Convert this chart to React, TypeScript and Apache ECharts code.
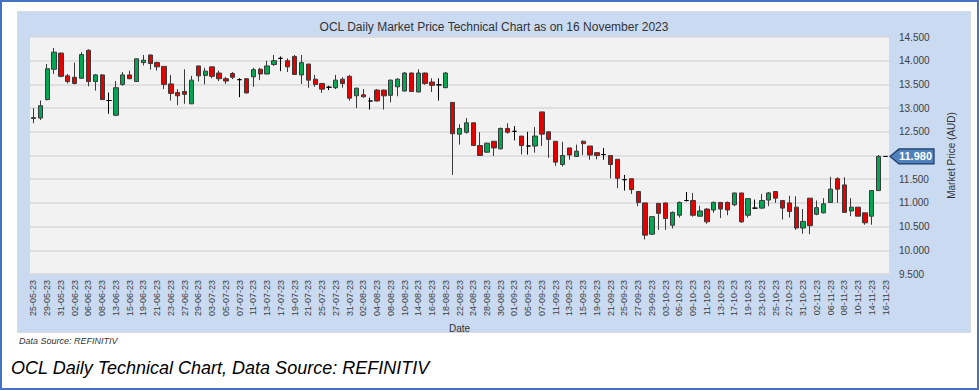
import React, { useEffect, useRef } from "react";
import * as echarts from "echarts";

const TITLE = "OCL Daily Market Price Technical Chart as on 16 November 2023";
const CAPTION = "OCL Daily Technical Chart, Data Source: REFINITIV";
const SOURCE = "Data Source: REFINITIV";
const Y_NAME = "Market Price (AUD)";
const X_NAME = "Date";

const dates = [
  "25-05-23","26-05-23","29-05-23","30-05-23","31-05-23","01-06-23","02-06-23","05-06-23","06-06-23","07-06-23",
  "08-06-23","09-06-23","13-06-23","14-06-23","15-06-23","16-06-23","19-06-23","20-06-23","21-06-23","22-06-23",
  "23-06-23","26-06-23","27-06-23","28-06-23","29-06-23","30-06-23","03-07-23","04-07-23","05-07-23","06-07-23",
  "07-07-23","10-07-23","11-07-23","12-07-23","13-07-23","14-07-23","17-07-23","18-07-23","19-07-23","20-07-23",
  "21-07-23","24-07-23","25-07-23","26-07-23","27-07-23","28-07-23","31-07-23","01-08-23","02-08-23","03-08-23",
  "04-08-23","07-08-23","08-08-23","09-08-23","10-08-23","11-08-23","14-08-23","15-08-23","16-08-23","17-08-23",
  "18-08-23","21-08-23","22-08-23","23-08-23","24-08-23","25-08-23","28-08-23","29-08-23","30-08-23","31-08-23",
  "01-09-23","04-09-23","05-09-23","06-09-23","07-09-23","08-09-23","11-09-23","12-09-23","13-09-23","14-09-23",
  "15-09-23","18-09-23","19-09-23","20-09-23","21-09-23","22-09-23","25-09-23","26-09-23","27-09-23","28-09-23",
  "29-09-23","02-10-23","03-10-23","04-10-23","05-10-23","06-10-23","09-10-23","10-10-23","11-10-23","12-10-23",
  "13-10-23","16-10-23","17-10-23","18-10-23","19-10-23","20-10-23","23-10-23","24-10-23","25-10-23","26-10-23",
  "27-10-23","30-10-23","31-10-23","01-11-23","02-11-23","03-11-23","06-11-23","07-11-23","08-11-23","09-11-23",
  "10-11-23","13-11-23","14-11-23","15-11-23","16-11-23",
];

const openP = [
  12.78,12.79,13.18,13.82,14.16,13.68,13.65,13.63,14.22,13.56,
  13.70,13.16,12.85,13.50,13.70,13.56,13.96,14.12,13.96,13.88,
  13.51,13.33,13.35,13.09,13.89,13.69,13.87,13.74,13.62,13.73,
  13.60,13.62,13.66,13.82,13.72,13.92,14.05,14.00,14.09,13.70,
  13.93,13.61,13.52,13.44,13.43,13.61,13.67,13.26,13.28,13.15,
  13.38,13.38,13.27,13.45,13.36,13.74,13.34,13.74,13.55,13.49,
  13.43,13.12,12.45,12.49,12.69,12.21,12.07,12.30,12.14,12.57,
  12.51,12.41,12.20,12.20,12.92,12.50,12.30,11.81,12.16,11.98,
  12.30,12.20,12.06,12.02,12.00,11.92,11.49,11.51,11.24,11.00,
  10.34,10.99,11.00,10.53,10.74,11.05,11.05,10.72,10.87,10.85,
  11.01,11.01,10.96,11.21,10.74,10.89,10.89,11.06,11.24,11.05,
  11.00,10.91,10.47,11.10,10.76,10.79,11.01,11.51,11.38,10.83,
  10.91,10.79,10.72,11.26,11.98,
];

const closeP = [
  12.80,13.05,13.83,14.18,13.67,13.56,13.52,14.13,13.56,13.70,
  13.18,13.16,13.43,13.70,13.62,14.04,14.01,13.94,13.87,13.50,
  13.31,13.26,13.29,13.59,13.68,13.78,13.67,13.62,13.57,13.65,
  13.60,13.32,13.81,13.72,13.89,14.00,14.05,13.87,13.71,13.96,
  13.59,13.50,13.40,13.44,13.59,13.52,13.21,13.42,13.24,13.15,
  13.15,13.26,13.59,13.61,13.74,13.35,13.74,13.52,13.48,13.49,
  13.74,12.46,12.57,12.69,12.21,12.00,12.26,12.16,12.57,12.49,
  12.51,12.21,12.20,12.41,12.45,12.34,11.86,12.00,12.01,12.09,
  12.25,12.01,12.00,12.02,11.81,11.52,11.49,11.28,11.01,10.32,
  10.71,10.78,10.67,10.80,11.01,11.05,10.74,10.83,10.60,11.01,
  10.87,10.85,11.21,10.60,11.09,10.89,11.05,11.21,11.10,10.89,
  10.82,10.47,10.61,10.52,10.90,10.98,11.29,11.29,10.80,10.91,
  10.72,10.58,11.26,11.98,11.98,
];

const lowP = [
  12.68,12.75,13.16,13.72,13.65,13.52,13.50,13.62,13.46,13.37,
  13.17,12.88,12.83,13.47,13.61,13.56,13.90,13.81,13.79,13.40,
  13.16,13.06,13.09,13.09,13.56,13.50,13.63,13.57,13.51,13.61,
  13.23,13.31,13.45,13.59,13.71,13.89,13.78,13.76,13.70,13.51,
  13.43,13.45,13.32,13.38,13.40,13.43,13.16,13.00,13.22,12.97,
  13.14,12.97,13.12,13.25,13.35,13.34,13.33,13.49,13.34,13.16,
  13.43,11.59,12.23,12.46,12.21,11.99,12.06,11.99,12.13,12.46,
  12.32,12.02,12.02,12.06,12.20,11.95,11.78,11.77,11.91,11.97,
  12.01,11.91,11.92,11.91,11.52,11.31,11.26,11.19,10.93,10.23,
  10.32,10.43,10.43,10.46,10.69,11.03,10.71,10.71,10.56,10.79,
  10.68,10.74,10.93,10.58,10.69,10.87,10.87,10.93,11.00,10.65,
  10.69,10.43,10.35,10.34,10.74,10.78,11.00,11.00,10.80,10.72,
  10.72,10.54,10.54,11.25,11.98,
];

const highP = [
  13.00,13.16,13.93,14.27,14.17,13.72,13.96,14.18,14.24,13.72,
  13.72,13.33,13.57,13.76,13.79,14.04,14.12,14.13,13.98,13.88,
  13.70,13.40,13.82,13.68,13.89,13.85,13.87,13.79,13.66,13.76,
  13.63,13.63,13.85,13.85,14.00,14.12,14.09,14.05,14.12,14.12,
  13.93,13.70,13.52,13.47,13.70,13.65,13.70,13.43,13.40,13.22,
  13.40,13.39,13.60,13.63,13.76,13.75,13.82,13.75,13.63,13.63,
  13.76,13.12,12.66,12.79,12.69,12.49,12.27,12.30,12.59,12.68,
  12.62,12.41,12.50,12.60,12.92,12.50,12.30,12.29,12.16,12.23,
  12.32,12.20,12.07,12.16,12.00,11.92,11.59,11.51,11.24,11.00,
  10.71,10.99,11.00,10.82,11.03,11.23,11.21,10.94,10.89,11.03,
  11.01,11.03,11.21,11.21,11.10,11.07,11.19,11.23,11.24,11.05,
  11.15,11.14,10.87,11.10,11.05,11.10,11.55,11.54,11.54,11.10,
  10.91,10.79,11.26,12.01,11.98,
];

const yTicks = { min: 9.5, max: 14.5, step: 0.5 };

const FONT = '"Liberation Sans", Arial, sans-serif';
const GRID = { left: 30, right: 90, top: 37, bottom: 116 };
const W = 979;
const H = 390;

export default function App() {
  const ref = useRef<HTMLDivElement>(null);

  useEffect(() => {
    if (!ref.current) return;
    const chart = echarts.init(ref.current, null, { renderer: "svg" });
    const candles = dates.map((_, i) => [openP[i], closeP[i], lowP[i], highP[i]]);
    const lastClose = closeP[closeP.length - 1];

    chart.setOption({
      animation: false,
      backgroundColor: "transparent",
      textStyle: { fontFamily: FONT },
      title: {
        text: TITLE,
        left: 494,
        top: 21,
        textAlign: "center",
        padding: 0,
        textStyle: { fontSize: 12, fontWeight: "normal", color: "#333333", fontFamily: FONT },
      },
      grid: {
        ...GRID,
        show: true,
        backgroundColor: "#F2F2F2",
        borderWidth: 0,
        containLabel: false,
      },
      xAxis: {
        type: "category",
        data: dates,
        boundaryGap: true,
        axisLine: { show: false },
        axisTick: { show: false },
        splitLine: { show: false },
        axisLabel: { rotate: 90, interval: 1, fontSize: 9, color: "#404040", margin: 6, fontFamily: FONT },
        name: X_NAME,
        nameLocation: "middle",
        nameGap: 46,
        nameTextStyle: { fontSize: 10, color: "#333333", fontFamily: FONT },
      },
      yAxis: {
        type: "value",
        position: "right",
        min: yTicks.min,
        max: yTicks.max,
        interval: yTicks.step,
        axisLine: { show: false },
        axisTick: { show: false },
        splitLine: { show: true, lineStyle: { color: "#D9D9D9", width: 1.5 } },
        axisLabel: {
          fontSize: 10,
          color: "#404040",
          margin: 10,
          fontFamily: FONT,
          formatter: (v: number) => (Math.abs(v - 12) < 1e-9 ? "" : v.toFixed(3)),
        },
        name: Y_NAME,
        nameLocation: "middle",
        nameRotate: 90,
        nameGap: 57,
        nameTextStyle: { fontSize: 10, color: "#333333", fontFamily: FONT },
      },
      series: [
        {
          type: "candlestick",
          data: candles,
          barWidth: "70%",
          itemStyle: {
            color: "#00A651",
            color0: "#E50000",
            borderColor: "#3A3A3A",
            borderColor0: "#3A3A3A",
            borderColorDoji: "#000000",
            borderWidth: 1,
          },
        },
      ],
    });

    const yPx = chart.convertToPixel({ yAxisIndex: 0 }, lastClose) as number;
    const tipX = W - GRID.right + 1;
    const boxL = tipX + 9;
    const boxR = tipX + 44;
    const half = 7.5;
    chart.setOption({
      graphic: [
        {
          type: "polygon",
          shape: {
            points: [
              [tipX, yPx],
              [boxL, yPx - half],
              [boxR, yPx - half],
              [boxR, yPx + half],
              [boxL, yPx + half],
            ],
          },
          style: { fill: "#4F81BD", stroke: "#1F3864", lineWidth: 1.2 },
        },
        {
          type: "text",
          x: (boxL + boxR) / 2 - 1,
          y: yPx,
          style: {
            text: lastClose.toFixed(3),
            fill: "#FFFFFF",
            fontSize: 11,
            fontWeight: "bold",
            fontFamily: FONT,
            align: "center",
            verticalAlign: "middle",
          },
        },
        {
          type: "text",
          left: 19,
          top: 336,
          style: { text: SOURCE, fill: "#333333", fontSize: 9, fontStyle: "italic", fontFamily: FONT },
        },
        {
          type: "text",
          left: 11,
          top: 359,
          style: { text: CAPTION, fill: "#000000", fontSize: 18, fontStyle: "italic", fontFamily: FONT },
        },
      ],
    });

    return () => chart.dispose();
  }, []);

  return (
    <div
      style={{
        position: "fixed",
        left: 0,
        top: 0,
        width: W,
        height: H,
        background: "#FFFFFF",
        boxSizing: "border-box",
        border: "2px solid #4472C4",
      }}
    >
      <div
        style={{
          position: "absolute",
          left: 15,
          top: 9,
          width: 954,
          height: 322,
          background: "#C9DAF1",
          boxSizing: "border-box",
          border: "1px solid #D5DCE6",
        }}
      />
      <div ref={ref} style={{ position: "absolute", left: -2, top: -2, width: W, height: H }} />
    </div>
  );
}
